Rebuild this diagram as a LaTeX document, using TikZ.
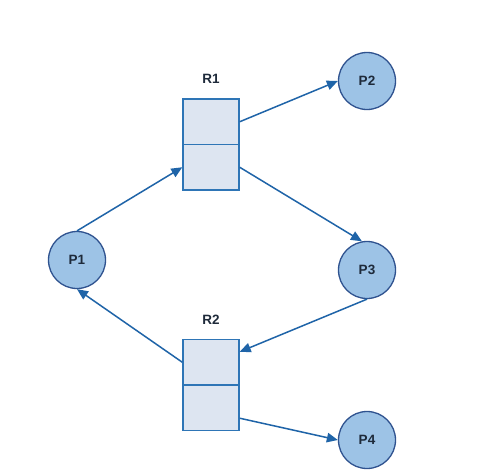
\documentclass[tikz,border=0pt]{standalone}
\usepackage{fontspec}
\setmainfont{Liberation Sans}
\usetikzlibrary{arrows.meta}
\definecolor{procfill}{HTML}{9DC3E6}
\definecolor{procdraw}{HTML}{2F528F}
\definecolor{resfill}{HTML}{DDE5F1}
\definecolor{resdraw}{HTML}{2E75B6}
\definecolor{arrowcol}{HTML}{1F64A8}
\definecolor{txt}{HTML}{1E2A3A}
\begin{document}
\begin{tikzpicture}[x=1pt,y=-1pt,
  proc/.style={circle,draw=procdraw,fill=procfill,line width=1.3pt,minimum size=57pt,inner sep=0pt,
    font=\fontsize{13.5}{15}\selectfont\bfseries,text=txt},
  half/.style={rectangle,draw=resdraw,fill=resfill,line width=1.4pt,minimum width=56pt,minimum height=45.5pt,inner sep=0pt},
  lbl/.style={font=\fontsize{13.5}{15}\selectfont\bfseries,text=txt},
  conn/.style={draw=arrowcol,line width=1.5pt,-{Triangle[length=11pt,width=9.5pt]}}]
\useasboundingbox[fill=white] (0,0) rectangle (484,469);
\node[proc] (P1) at (77,260) {P1};
\node[proc] (P2) at (367,81) {P2};
\node[proc] (P3) at (367,270) {P3};
\node[proc] (P4) at (367,440) {P4};
\node[half] (R1a) at (211,121.75) {};
\node[half] (R1b) at (211,167.25) {};
\node[half] (R2a) at (211,362.25) {};
\node[half] (R2b) at (211,407.75) {};
\node[lbl] (L1) at (211,79) {R1};
\node[lbl] (L2) at (211,320) {R2};
\draw[conn] (R1a.east) -- (P2.west);
\draw[conn] (R1b.east) -- (P3.100);
\draw[conn] (P3.south) -- (R2a.20);
\draw[conn] (R2a.west) -- (P1.south);
\draw[conn] (P1.north) -- (R1b.west);
\draw[conn] (R2b.-20) -- (P4.west);
\end{tikzpicture}
\end{document}
